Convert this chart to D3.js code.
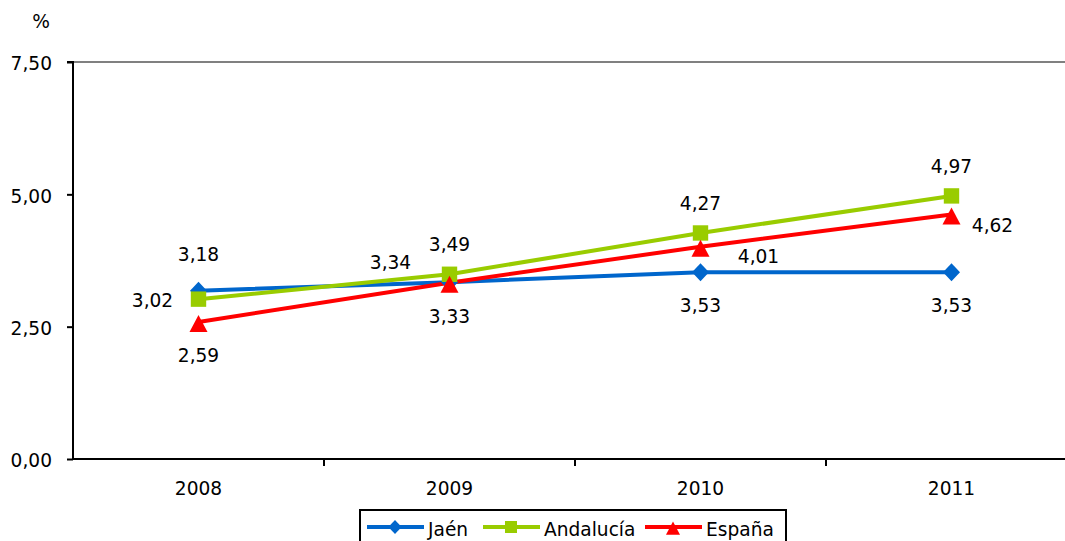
<!DOCTYPE html>
<html><head><meta charset="utf-8">
<script src="https://cdn.jsdelivr.net/npm/d3@7"></script>
<style>body{margin:0;background:#fff}svg{display:block}text{font-family:"DejaVu Sans",Verdana,sans-serif;fill:#000}</style>
</head><body><svg id="c" width="1065" height="541"></svg>
<script>
const years = ["2008","2009","2010","2011"];
const jaen = [3.18, 3.34, 3.53, 3.53];
const andalucia = [3.02, 3.49, 4.27, 4.97];
const espana = [2.59, 3.33, 4.01, 4.62];
const yTicks = [0, 2.5, 5, 7.5];
const seriesNames = ["Jaén", "Andalucía", "España"];
const seriesColors = ["#0066CC", "#99CC00", "#FF0000"];
// label placement codes per point
const jaenPlace = ["a2","al","b","b"];
const andPlace = ["l","a","a","a"];
const espPlace = ["b","b","r2","r"];

const FS = "18.6px";
const svg = d3.select("#c");
const fmt = v => d3.format(".2f")(v).replace(".", ",");
const x0 = 73, x1 = 1077, yTop = 62, yBot = 459;
const x = d3.scaleBand().domain(years).range([x0, x1]);
const y = d3.scaleLinear().domain([0, 7.5]).range([yBot, yTop]);
const cx = d => x(d) + x.bandwidth()/2;

// custom marker shapes (scale factor k)
const diamond = k => ({draw(c){c.moveTo(0,-9*k);c.lineTo(8.5*k,0);c.lineTo(0,9*k);c.lineTo(-8.5*k,0);c.closePath();}});
const square = k => ({draw(c){const h=7.7*k;c.rect(-h,-h,2*h,2*h);}});
const triangle = k => ({draw(c){c.moveTo(0,-7*k);c.lineTo(9*k,10*k);c.lineTo(-9*k,10*k);c.closePath();}});

// top gridline
svg.append("line").attr("x1", x0).attr("x2", x1).attr("y1", y(7.5)).attr("y2", y(7.5))
  .attr("stroke", "#808080").attr("stroke-width", 2);

// y axis
const ya = svg.append("g").attr("transform", `translate(${x0},0)`)
  .call(d3.axisLeft(y).tickValues(yTicks).tickFormat(fmt).tickSize(6).tickPadding(15));
ya.select(".domain").attr("stroke", "#000").attr("stroke-width", 2).attr("d", `M-6,${yTop}H0V${yBot}`);
ya.selectAll(".tick line").attr("stroke", "#000").attr("stroke-width", 2);
ya.selectAll("text").style("font-size", FS).style("font-family", '"DejaVu Sans",Verdana,sans-serif').attr("fill", "#000").attr("dy", "0.42em");

// x axis
const xa = svg.append("g").attr("transform", `translate(0,${yBot})`)
  .call(d3.axisBottom(x).tickSize(0).tickPadding(23));
xa.select(".domain").attr("stroke", "#000").attr("stroke-width", 2).attr("d", `M${x0},0H${x1}`);
xa.selectAll("text").style("font-size", FS).style("font-family", '"DejaVu Sans",Verdana,sans-serif').attr("fill", "#000");
const bounds = years.map(d => x(d)).concat([x1]).slice(1);
xa.selectAll(".bt").data(bounds).enter().append("line")
  .attr("x1", d => d).attr("x2", d => d).attr("y1", 0).attr("y2", 7)
  .attr("stroke", "#000").attr("stroke-width", 2);

svg.append("text").attr("x", 41).attr("y", 28).attr("text-anchor", "middle")
  .style("font-size", FS).text("%");

const series = [
  {name: seriesNames[0], vals: jaen, color: seriesColors[0], sym: diamond, place: jaenPlace},
  {name: seriesNames[1], vals: andalucia, color: seriesColors[1], sym: square, place: andPlace},
  {name: seriesNames[2], vals: espana, color: seriesColors[2], sym: triangle, place: espPlace}
];
const line = d3.line().x((d,i) => cx(years[i])).y(d => y(d));
const offs = {a:[0,-23], a2:[0,-30], b:[0,40], l:[-46,8], r:[41,18], r2:[58,16], al:[-59,-13]};

series.forEach(s => {
  svg.append("path").attr("d", line(s.vals)).attr("fill", "none")
    .attr("stroke", s.color).attr("stroke-width", 4);
});
series.forEach(s => {
  svg.selectAll(null).data(s.vals).enter().append("path")
    .attr("d", d3.symbol(s.sym(1))())
    .attr("transform", (d,i) => `translate(${cx(years[i])},${y(d)})`)
    .attr("fill", s.color);
});
series.forEach(s => {
  svg.selectAll(null).data(s.vals).enter().append("text")
    .attr("x", (d,i) => cx(years[i]) + offs[s.place[i]][0])
    .attr("y", (d,i) => y(d) + offs[s.place[i]][1])
    .attr("text-anchor", "middle").style("font-size", FS).text(d => fmt(d));
});

// legend
const lg = svg.append("g");
lg.append("rect").attr("x", 360).attr("y", 510).attr("width", 426).attr("height", 40)
  .attr("fill", "#fff").attr("stroke", "#000").attr("stroke-width", 2);
const lx = [367, 483, 645];
series.forEach((s, i) => {
  const g = lg.append("g").attr("transform", `translate(${lx[i]},527)`);
  g.append("line").attr("x1", 0).attr("x2", 57).attr("stroke", s.color).attr("stroke-width", 4);
  g.append("path").attr("d", d3.symbol(s.sym(0.78))()).attr("transform", `translate(28,0)`).attr("fill", s.color);
  g.append("text").attr("x", 61).attr("y", 9).style("font-size", FS).text(s.name);
});
</script></body></html>
